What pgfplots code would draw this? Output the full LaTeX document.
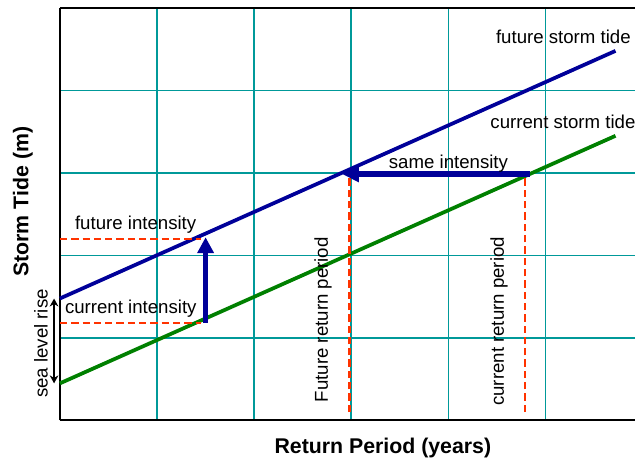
\documentclass[border=0pt]{standalone}
\usepackage{pgfplots}
\pgfplotsset{compat=1.18}
\usetikzlibrary{arrows.meta}
\usepackage{fontspec}
\setmainfont{Liberation Sans}
\definecolor{gridteal}{RGB}{0,153,153}
\definecolor{futblue}{RGB}{0,0,153}
\definecolor{curgreen}{RGB}{0,128,0}
\definecolor{dashred}{RGB}{255,51,0}
\begin{document}
\begin{tikzpicture}
\begin{axis}[
  scale only axis,
  width=432pt, height=309.75pt,
  xmin=0, xmax=5.92, ymin=0, ymax=5,
  xtick={1,2,3,4,5}, ytick={1,2,3,4},
  xticklabels={}, yticklabels={},
  major tick length=0pt,
  grid=major,
  major grid style={gridteal, line width=1.3pt},
  axis x line=box, axis y line=left,
  axis line style={black, line width=1.6pt},
  y axis line style={-},
  clip=false,
]
% bounding box of the picture
\path (axis cs:-0.6166,-0.5327) rectangle (axis cs:5.92,5.097);
% storm tide lines
\addplot[futblue, line width=2.8pt] coordinates {(0,1.477) (5.72,4.48)};
\addplot[curgreen, line width=2.8pt] coordinates {(0,0.448) (5.72,3.45)};
% dashed guides
\addplot[dashred, line width=1.9pt, dash pattern=on 5.5pt off 3pt] coordinates {(0,2.2) (1.45,2.2)};
\addplot[dashred, line width=1.9pt, dash pattern=on 5.5pt off 3pt] coordinates {(0,1.18) (1.45,1.18)};
\addplot[dashred, line width=1.9pt, dash pattern=on 5.5pt off 3pt] coordinates {(2.98,0.1) (2.98,2.94)};
\addplot[dashred, line width=1.9pt, dash pattern=on 5.5pt off 3pt] coordinates {(4.79,0.1) (4.79,2.94)};
% arrows
\addplot[futblue, line width=4.3pt, -{Triangle[length=12pt,width=12pt]}] coordinates {(1.5,1.18) (1.5,2.22)};
\addplot[futblue, line width=4.3pt, -{Triangle[length=13pt,width=12pt]}] coordinates {(4.84,2.99) (2.9,2.99)};
\addplot[black, line width=1.3pt, {Stealth[length=6pt,width=6.5pt]}-{Stealth[length=6pt,width=6.5pt]}] coordinates {(-0.06,0.448) (-0.06,1.477)};
% labels
\begin{scope}[every node/.style={font=\fontsize{14}{16}\selectfont, inner sep=0pt}]
\node[anchor=east] at (axis cs:5.879,4.65) {future storm tide};
\node[anchor=west, overlay] at (axis cs:4.43,3.62) {current storm tide};
\node at (axis cs:4.0,3.11) {same intensity};
\node at (axis cs:0.78,2.37) {future intensity};
\node at (axis cs:0.73,1.356) {current intensity};
\node[rotate=90] at (axis cs:-0.195,0.93) {sea level rise};
\node[rotate=90] at (axis cs:2.71,1.22) {Future return period};
\node[rotate=90] at (axis cs:4.52,1.2) {current return period};
\end{scope}
\node[rotate=90, font=\fontsize{16}{18}\selectfont\bfseries, inner sep=0pt] at (axis cs:-0.38,2.65) {Storm Tide (m)};
\node[font=\fontsize{16}{18}\selectfont\bfseries, inner sep=0pt] at (axis cs:3.325,-0.339) {Return Period (years)};
\end{axis}
\end{tikzpicture}
\end{document}
